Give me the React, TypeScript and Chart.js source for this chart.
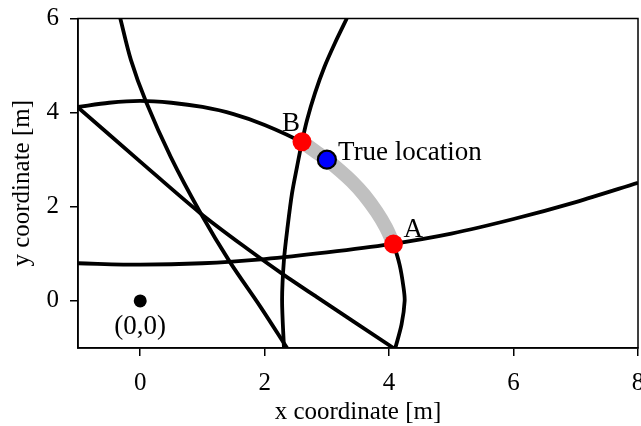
import React, { useEffect, useRef } from "react";
import { Chart, registerables } from "chart.js";

Chart.register(...registerables);

const FONT = "'Liberation Serif', 'Times New Roman', Times, serif";

// Axis ranges and tick values
const xRange = [-1, 8];
const yRange = [-1, 6];
const xTickValues = [0, 2, 4, 6, 8];
const yTickValues = [0, 2, 4, 6];

// Range circle around the anchor at the origin
const circleX = [-1, -0.5, 0, 0.5, 1, 1.5, 2, 2.6, 3.0, 3.4, 3.75, 4.0, 4.07, 4.17, 4.23, 4.25, 4.2, 4.1];
const circleY = [4.12, 4.21, 4.25, 4.21, 4.12, 3.97, 3.74, 3.37, 3.0, 2.54, 1.98, 1.43, 1.21, 0.76, 0.3, 0.0, -0.5, -1.0];

// Nearly flat curve crossing at A
const flatX = [-1, 0, 1, 2, 3, 4, 5, 6, 7, 8];
const flatY = [0.8, 0.77, 0.8, 0.89, 1.03, 1.2, 1.43, 1.74, 2.1, 2.51];

// Steep curve on the left
const steepLeftX = [-0.32, -0.15, 0.09, 0.49, 0.96, 1.44, 1.93, 2.36];
const steepLeftY = [6.0, 5.12, 4.24, 3.06, 1.89, 0.83, -0.12, -1.0];

// Diagonal curve from the left edge to the bottom edge
const diagonalX = [-1, 0, 0.96, 1.76, 2.29, 2.84, 4.07];
const diagonalY = [4.11, 2.96, 1.87, 1.07, 0.57, 0.08, -1.0];

// Steep curve crossing at B
const steepRightX = [3.32, 3.13, 2.96, 2.81, 2.68, 2.6, 2.52, 2.44, 2.37, 2.31, 2.28, 2.31];
const steepRightY = [6.0, 5.48, 4.97, 4.42, 3.84, 3.38, 2.85, 2.29, 1.59, 0.87, 0.02, -1.0];

// Candidate arc between B and A
const arcX = [2.6, 2.8, 3.0, 3.2, 3.4, 3.6, 3.8, 3.95, 4.07];
const arcY = [3.38, 3.19, 3.0, 2.78, 2.54, 2.25, 1.89, 1.56, 1.21];

// Marked points
const intersectX = [4.07, 2.6];
const intersectY = [1.21, 3.38];
const trueX = [3.0];
const trueY = [3.0];
const originX = [0];
const originY = [0];

// Text labels placed in data coordinates
const labelTexts = ["True location", "B", "A", "(0,0)"];
const labelX = [3.18, 2.28, 4.23, 0];
const labelY = [2.99, 3.62, 1.35, -0.7];
const labelAlign: CanvasTextAlign[] = ["left", "left", "left", "center"];

const pts = (xs: number[], ys: number[]) => xs.map((x, i) => ({ x, y: ys[i] }));

const curve = (xs: number[], ys: number[]) => ({
  data: pts(xs, ys),
  showLine: true,
  borderColor: "#000000",
  borderWidth: 3.8,
  pointRadius: 0,
  tension: 0.3,
  fill: false,
  order: 3,
});

const frameAndLabels = {
  id: "frameAndLabels",
  afterDatasetsDraw(chart: any) {
    const { ctx, chartArea, scales } = chart;
    ctx.save();
    ctx.strokeStyle = "#000000";
    ctx.lineWidth = 1.5;
    ctx.strokeRect(chartArea.left, chartArea.top, chartArea.right - chartArea.left, chartArea.bottom - chartArea.top);
    ctx.fillStyle = "#000000";
    ctx.font = `27px ${FONT}`;
    ctx.textBaseline = "alphabetic";
    labelTexts.forEach((t, i) => {
      ctx.textAlign = labelAlign[i];
      ctx.fillText(t, scales.x.getPixelForValue(labelX[i]), scales.y.getPixelForValue(labelY[i]));
    });
    ctx.restore();
  },
};

export default function App() {
  const canvasRef = useRef<HTMLCanvasElement | null>(null);

  useEffect(() => {
    if (!canvasRef.current) return;
    const chart = new Chart(canvasRef.current, {
      type: "scatter",
      data: {
        datasets: [
          {
            data: pts(trueX, trueY),
            pointRadius: 9,
            pointBackgroundColor: "#0000ff",
            pointBorderColor: "#000000",
            pointBorderWidth: 2.2,
            order: 0,
          },
          {
            data: pts(intersectX, intersectY),
            pointRadius: 9.5,
            pointBackgroundColor: "#ff0000",
            pointBorderWidth: 0,
            order: 1,
          },
          {
            data: pts(originX, originY),
            pointRadius: 6.5,
            pointBackgroundColor: "#000000",
            pointBorderWidth: 0,
            order: 1,
          },
          {
            data: pts(arcX, arcY),
            showLine: true,
            borderColor: "#c0c0c0",
            borderWidth: 14,
            pointRadius: 0,
            tension: 0.4,
            order: 2,
          },
          curve(circleX, circleY),
          curve(flatX, flatY),
          curve(steepLeftX, steepLeftY),
          curve(diagonalX, diagonalY),
          curve(steepRightX, steepRightY),
        ] as any,
      },
      options: {
        animation: false,
        responsive: false,
        devicePixelRatio: 1,
        events: [],
        layout: { autoPadding: false, padding: { top: 18.5, right: 3, left: 0, bottom: 0 } },
        plugins: { legend: { display: false }, tooltip: { enabled: false } },
        scales: {
          x: {
            type: "linear",
            position: "bottom",
            min: xRange[0],
            max: xRange[1],
            afterBuildTicks: (scale: any) => {
              scale.ticks = xTickValues.map((v) => ({ value: v }));
            },
            afterFit: (scale: any) => {
              scale.height = 78;
              scale.paddingLeft = 0;
              scale.paddingRight = 0;
            },
            grid: { drawOnChartArea: false, drawTicks: true, tickLength: 8, color: "#000000", lineWidth: 1.5 },
            border: { display: true, color: "#000000", width: 1.5 },
            ticks: { color: "#000000", font: { family: FONT, size: 25 }, padding: 12, maxRotation: 0 },
            title: {
              display: true,
              text: "x coordinate [m]",
              color: "#000000",
              font: { family: FONT, size: 25, lineHeight: 1 },
              padding: { top: 0, bottom: 1 },
            },
          },
          y: {
            type: "linear",
            position: "left",
            min: yRange[0],
            max: yRange[1],
            afterBuildTicks: (scale: any) => {
              scale.ticks = yTickValues.map((v) => ({ value: v }));
            },
            afterFit: (scale: any) => {
              scale.width = 78;
              scale.paddingTop = 0;
              scale.paddingBottom = 0;
            },
            grid: { drawOnChartArea: false, drawTicks: true, tickLength: 8, color: "#000000", lineWidth: 1.5 },
            border: { display: true, color: "#000000", width: 1.5 },
            ticks: { color: "#000000", font: { family: FONT, size: 25 }, padding: 11 },
            title: {
              display: true,
              text: "y coordinate [m]",
              color: "#000000",
              font: { family: FONT, size: 25, lineHeight: 1 },
              padding: { top: 9.5, bottom: 0 },
            },
          },
        },
      } as any,
      plugins: [frameAndLabels],
    });
    return () => chart.destroy();
  }, []);

  return (
    <div style={{ position: "fixed", left: 0, top: 0, width: 641, height: 426, background: "#ffffff" }}>
      <canvas ref={canvasRef} width={641} height={426} />
    </div>
  );
}
